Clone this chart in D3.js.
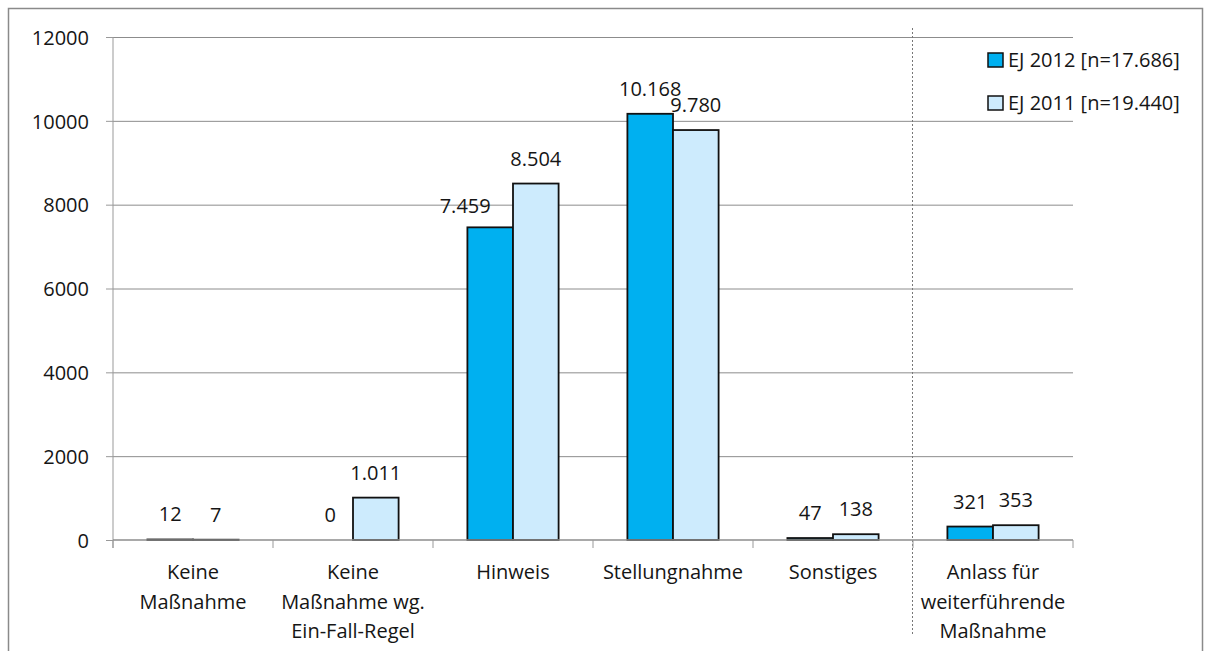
<html>
<meta charset="utf-8" />
<head>
<title>EJ 2012 / EJ 2011</title>
<script src="https://cdn.jsdelivr.net/npm/d3@7/dist/d3.min.js"></script>
<style>
	body { margin: 0; background: #fff; }
	svg text { font-family: "Open Sans", "Liberation Sans", Arial, sans-serif; font-size: 20px; fill: #151515; }
</style>
<script>
// Kategorien (mehrzeilige Beschriftung)
const categories = [
	["Keine", "Maßnahme"],
	["Keine", "Maßnahme wg.", "Ein-Fall-Regel"],
	["Hinweis"],
	["Stellungnahme"],
	["Sonstiges"],
	["Anlass für", "weiterführende", "Maßnahme"]
];
const seriesNames = ["EJ 2012 [n=17.686]", "EJ 2011 [n=19.440]"];
const values2012 = [12, 0, 7459, 10168, 47, 321];
const values2011 = [7, 1011, 8504, 9780, 138, 353];
const yTicks = [0, 2000, 4000, 6000, 8000, 10000, 12000];
const seriesColors = ["#00b0f0", "#cdebfd"];

window.onload = function() {
	const svg = d3.select('svg');
	const left = 113, right = 1073, top = 37, bottom = 540;

	// äußerer Rahmen
	svg.append('rect').attr('x', 8.5).attr('y', 8.5).attr('width', 1194).attr('height', 700)
		.attr('fill', 'none').attr('stroke', '#8a8a8a').attr('stroke-width', 1.5);

	const idx = categories.map((c, i) => i);
	const xScale = d3.scaleBand().domain(idx).range([left, right]).padding(0);
	const bw = xScale.bandwidth();
	const inner = d3.scaleBand().domain([0, 1]).range([bw * 0.215, bw * 0.785]).padding(0);
	const yScale = d3.scaleLinear().domain([0, 12000]).range([bottom, top]);

	// Gitterlinien
	svg.append('g').attr('transform', 'translate(' + left + ',0)')
		.call(d3.axisLeft(yScale).tickValues(yTicks.slice(1)).tickSize(-(right - left)).tickFormat(''))
		.call(g => g.select('.domain').remove())
		.selectAll('line').attr('stroke', '#8c8c8c');

	// Trennlinie
	svg.append('line')
		.attr('x1', xScale(5) - 0.5).attr('x2', xScale(5) - 0.5)
		.attr('y1', 28).attr('y2', 636)
		.attr('stroke', '#777').attr('stroke-dasharray', '2,2');

	const rows = [];
	idx.forEach(i => {
		rows.push({cat: i, s: 0, v: values2012[i]});
		rows.push({cat: i, s: 1, v: values2011[i]});
	});

	svg.append('g').selectAll('rect')
		.data(rows.filter(d => d.v > 0))
		.enter()
		.append('rect')
		.attr('x', d => xScale(d.cat) + inner(d.s))
		.attr('width', inner.bandwidth())
		.attr('y', d => yScale(d.v))
		.attr('height', d => bottom - yScale(d.v))
		.attr('fill', d => seriesColors[d.s])
		.attr('stroke', '#111')
		.attr('stroke-width', 1.8);

	// Y-Achse
	const yAxis = svg.append('g').attr('transform', 'translate(' + left + ',0)')
		.call(d3.axisLeft(yScale).tickValues(yTicks).tickSize(7).tickPadding(17).tickFormat(d3.format('d')));
	yAxis.select('.domain').attr('stroke', '#999').attr('d', 'M0,' + top + 'V' + (bottom + 8));
	yAxis.selectAll('line').attr('stroke', '#999');
	yAxis.selectAll('text').attr('fill', '#151515').attr('dy', '0.36em');

	// X-Achse
	const xAxis = svg.append('g').attr('transform', 'translate(0,' + bottom + ')');
	xAxis.append('line').attr('x1', left).attr('x2', right).attr('stroke', '#8c8c8c').attr('stroke-width', 1.5);
	xAxis.selectAll('line.tick').data(idx.concat([6]))
		.enter().append('line').attr('class', 'tick')
		.attr('x1', i => i < 6 ? xScale(i) : right).attr('x2', i => i < 6 ? xScale(i) : right)
		.attr('y1', 0).attr('y2', 8).attr('stroke', '#999');

	// Kategorienbeschriftung
	const catText = svg.append('g').selectAll('text')
		.data(categories)
		.enter()
		.append('text')
		.attr('text-anchor', 'middle')
		.attr('x', (d, i) => xScale(i) + bw / 2)
		.attr('y', 579);
	catText.selectAll('tspan')
		.data((d, i) => d.map(l => ({l: l, x: xScale(i) + bw / 2})))
		.enter().append('tspan')
		.attr('x', d => d.x)
		.attr('dy', (d, j) => j === 0 ? 0 : 29.5)
		.text(d => d.l);

	// Datenbeschriftung
	const de = d3.formatLocale({decimal: ',', thousands: '.', grouping: [3], currency: ['', '€']});
	const fmt = de.format(',');
	const labelNudge = {'2-0': [-25, 4]};
	svg.append('g').selectAll('text')
		.data(rows)
		.enter()
		.append('text')
		.attr('text-anchor', 'middle')
		.attr('x', d => xScale(d.cat) + inner(d.s) + inner.bandwidth() / 2 + (labelNudge[d.cat + '-' + d.s] || [0, 0])[0])
		.attr('y', d => yScale(d.v) - 18 + (labelNudge[d.cat + '-' + d.s] || [0, 0])[1])
		.text(d => fmt(d.v));

	// Legende
	const legend = svg.append('g').selectAll('g')
		.data(seriesNames)
		.enter().append('g')
		.attr('transform', (d, i) => 'translate(988,' + (53 + i * 43) + ')');
	legend.append('rect').attr('width', 15).attr('height', 14)
		.attr('fill', (d, i) => seriesColors[i]).attr('stroke', '#111').attr('stroke-width', 1.5);
	legend.append('text').attr('x', 20).attr('y', 14).text(d => d);
}
</script>
</head>
<body>
<div>
	<svg width="1208" height="651"></svg>
</div>
</body>
</html>
